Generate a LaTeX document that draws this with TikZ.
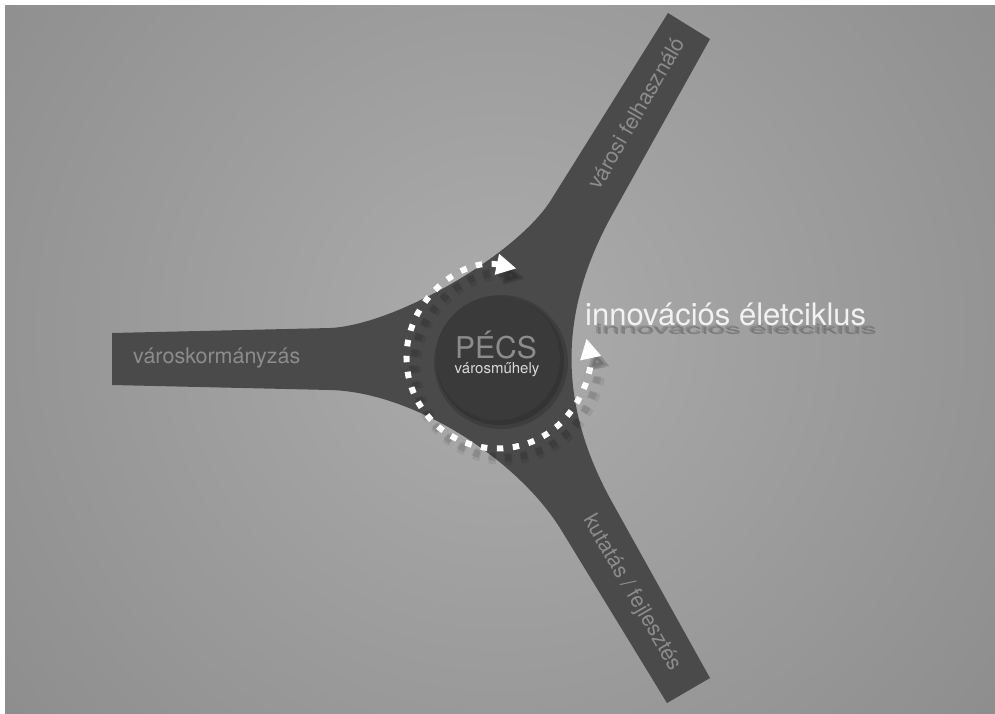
\documentclass[tikz,border=0pt]{standalone}
\usepackage{fontspec}
\setmainfont{TeX Gyre Heros}
\usetikzlibrary{arrows.meta}
\definecolor{armc}{RGB}{74,74,74}
\definecolor{hubc}{RGB}{58,58,58}
\definecolor{armtext}{RGB}{140,140,140}
\definecolor{pecsc}{RGB}{140,140,140}
\definecolor{bgin}{RGB}{172,172,172}
\definecolor{bgout}{RGB}{110,110,110}
\definecolor{shadowtext}{RGB}{105,105,105}
\pgfdeclareradialshading{bgshade}{\pgfpoint{0bp}{0bp}}{color(0bp)=(bgin); color(50bp)=(bgout)}
\tikzset{
  armlabel/.style={text=armtext, inner sep=0pt, font=\fontsize{21.5}{24}\selectfont},
  ringline/.style={line width=6pt, white, dash pattern=on 6.5pt off 9.5pt,
    {Triangle[length=20pt,width=20pt]}-{Triangle[length=20pt,width=20pt]}},
  ringshadow/.style={line width=7pt, black, dash pattern=on 7pt off 9pt,
    {Triangle[length=20pt,width=20pt]}-{Triangle[length=20pt,width=20pt]}}
}
\begin{document}
\begin{tikzpicture}[x=1pt,y=-1pt]
\useasboundingbox (0,0) rectangle (995,713);
\fill[white] (0,0) rectangle (995,713);
\begin{scope}
  \clip (5,5) rectangle (995,713);
  \shade[shading=bgshade] (500,330) circle (640);
\end{scope}
% three arms
\fill[armc] (112,333) -- (112,385) -- (330,390)
  .. controls (412,392) and (515.5,457.6) .. (560,528) -- (667,703) -- (710,678) -- (612,502)
  .. controls (558,404.4) and (558,312.6) .. (612,215) -- (710,39) -- (668,13) -- (551,200)
  .. controls (516.8,254.5) and (395.3,325) .. (330,328) -- cycle;
% arm labels
\node[armlabel, anchor=base west] (gov) at (133,363) {városkormányzás};
\node[armlabel, rotate=60] (user) at (636,113) {városi felhasználó};
\node[armlabel, rotate=-60] (rd) at (632,593) {kutatás / fejlesztés};
% hub
\fill[black, opacity=0.15] (501,362) circle (67);
\fill[black, opacity=0.15] (500,361) circle (64);
\node[circle, fill=hubc, minimum size=124pt, inner sep=0pt] (hub) at (498,358) {};
\node[anchor=base, text=pecsc, inner sep=0pt, font=\fontsize{30}{30}\selectfont] (pecs) at (496,358) {PÉCS};
\node[anchor=base, text=white!85!black, inner sep=0pt, font=\fontsize{15}{15}\selectfont] (muhely) at (497,373) {városműhely};
% ring shadow
\draw[ringshadow, opacity=0.07, line width=12pt] (506,368) ++(-78:91) arc[start angle=-78, end angle=-372, radius=91];
\draw[ringshadow, opacity=0.10] (505,367) ++(-78:91) arc[start angle=-78, end angle=-372, radius=91];
% ring
\coordinate (ringc) at (497.5,357.5);
\draw[ringline] (ringc) ++(-78:91) arc[start angle=-78, end angle=-372, radius=91];
% innovation label with shadow
\node[anchor=base west, text=shadowtext, opacity=0.6, inner sep=0pt, yscale=0.45, font=\fontsize{31}{31}\selectfont] (innovsh) at (596,334) {innovációs életciklus};
\node[anchor=base west, text=shadowtext, opacity=0.4, inner sep=0pt, yscale=0.45, font=\fontsize{31}{31}\selectfont] (innovsh2) at (594,333) {innovációs életciklus};
\node[anchor=base west, text=white!95!black, inner sep=0pt, font=\fontsize{31}{31}\selectfont] (innov) at (585,325) {innovációs életciklus};
\end{tikzpicture}
\end{document}
